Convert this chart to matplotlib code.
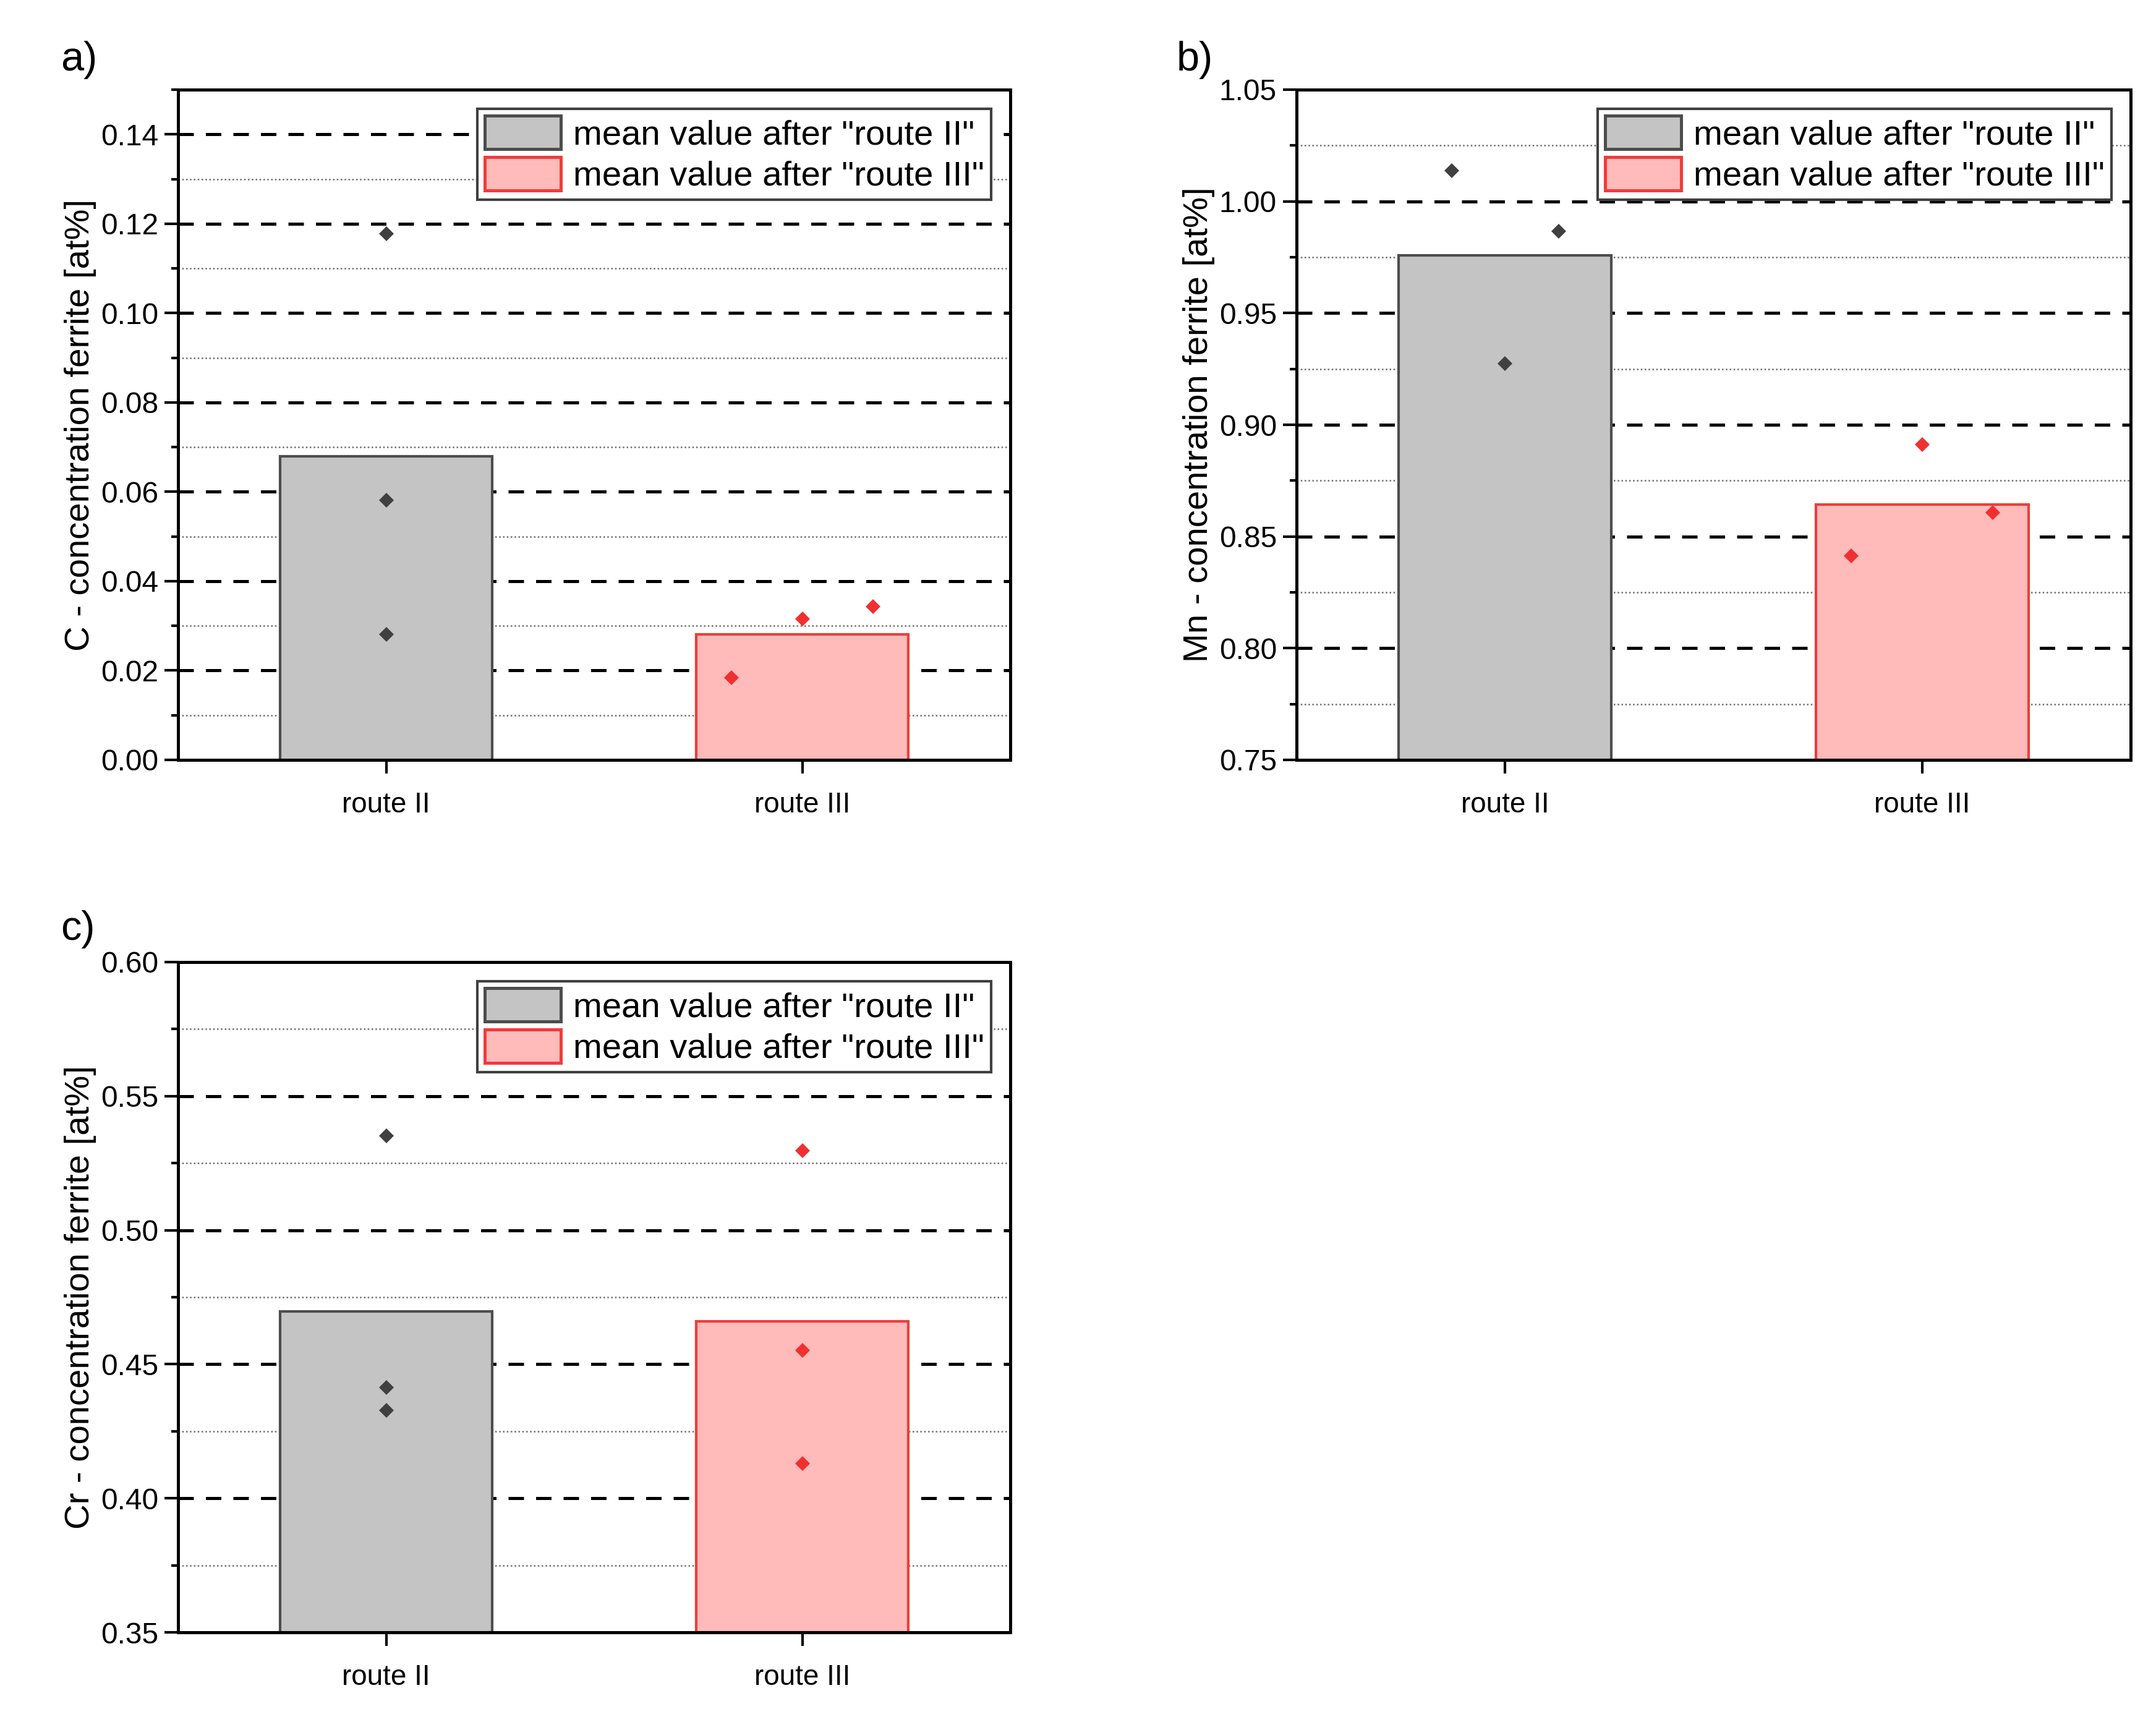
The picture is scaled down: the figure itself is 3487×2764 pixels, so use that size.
import matplotlib
matplotlib.use('Agg')
import matplotlib.pyplot as plt
from matplotlib.patches import Patch
from matplotlib.ticker import MultipleLocator, FormatStrFormatter

plt.rcParams['font.family'] = ['Liberation Sans', 'DejaVu Sans']

# ---------------- data ----------------
categories = ['route II', 'route III']
legend_labels = ['mean value after "route II"', 'mean value after "route III"']

# a) carbon
c_means = [0.0680, 0.0281]
c_route2 = [0.1178, 0.0581, 0.0281]
c_route3 = [0.0184, 0.0316, 0.0343]
c_route2_dx = [0.0, 0.0, 0.0]
c_route3_dx = [-0.17, 0.0, 0.17]

# b) manganese
mn_means = [0.9757, 0.8643]
mn_route2 = [1.0138, 0.9865, 0.9273]
mn_route3 = [0.8413, 0.8911, 0.8607]
mn_route2_dx = [-0.128, 0.128, 0.0]
mn_route3_dx = [-0.17, 0.0, 0.17]

# c) chromium
cr_means = [0.4698, 0.4661]
cr_route2 = [0.5353, 0.4413, 0.4327]
cr_route3 = [0.5296, 0.4552, 0.4129]
cr_route2_dx = [0.0, 0.0, 0.0]
cr_route3_dx = [0.0, 0.0, 0.0]

panel_letters = ['a)', 'b)', 'c)']
ylabels = ['C - concentration ferrite [at%]',
           'Mn - concentration ferrite [at%]',
           'Cr - concentration ferrite [at%]']

# ---------------- style ----------------
bar_face = ['#c4c4c4', '#ffbaba']
bar_edge = ['#4d4d4d', '#f23b3b']
pt_color = ['#404040', '#f03030']

W, H = 3487, 2764
fig = plt.figure(figsize=(W / 300, H / 300), dpi=300)

def frac_rect(l, r, t, b):
    return [l / W, 1 - b / H, (r - l) / W, (b - t) / H]

rects = [frac_rect(288, 1634, 145, 1229),
         frac_rect(2097, 3446, 145, 1229),
         frac_rect(288, 1634, 1556, 2640)]
letter_pos = [(98, 66), (1903, 66), (98, 1472)]

panels = [
    (c_means, c_route2, c_route3, c_route2_dx, c_route3_dx, (0.0, 0.15), 0.02, 0.01),
    (mn_means, mn_route2, mn_route3, mn_route2_dx, mn_route3_dx, (0.75, 1.05), 0.05, 0.025),
    (cr_means, cr_route2, cr_route3, cr_route2_dx, cr_route3_dx, (0.35, 0.60), 0.05, 0.025),
]

for i, (means, r2, r3, dx2, dx3, ylim, maj, mnr) in enumerate(panels):
    ax = fig.add_axes(rects[i])
    xs = [1, 2]
    ax.bar(xs, [m - ylim[0] for m in means], bottom=ylim[0], width=0.51,
           color=bar_face, edgecolor=bar_edge, linewidth=1.0, zorder=3)
    ax.plot([xs[0] + d for d in dx2], r2, linestyle='none', marker='D',
            markersize=4.0, color=pt_color[0], markeredgewidth=0, zorder=4)
    ax.plot([xs[1] + d for d in dx3], r3, linestyle='none', marker='D',
            markersize=4.0, color=pt_color[1], markeredgewidth=0, zorder=4)

    ax.set_xlim(0.5, 2.5)
    ax.set_ylim(*ylim)
    ax.set_xticks(xs)
    ax.set_xticklabels(categories, fontsize=11)
    ax.yaxis.set_major_locator(MultipleLocator(maj))
    ax.yaxis.set_minor_locator(MultipleLocator(mnr))
    ax.yaxis.set_major_formatter(FormatStrFormatter('%.2f'))
    ax.tick_params(axis='y', which='major', direction='out', length=5.2,
                   width=1.0, labelsize=11.5, pad=2.5)
    ax.tick_params(axis='y', which='minor', direction='out', length=2.6, width=1.0)
    ax.tick_params(axis='x', which='major', direction='out', length=5.2,
                   width=1.0, pad=7)
    ax.tick_params(axis='x', which='minor', bottom=False)

    ax.set_axisbelow(True)
    ax.grid(axis='y', which='major', color='black', linestyle=(0, (5.0, 3.9)),
            linewidth=1.2, zorder=1)
    ax.grid(axis='y', which='minor', color='#6e6e6e', linestyle=(0, (1, 1.5)),
            linewidth=0.6, zorder=1)
    for s in ax.spines.values():
        s.set_linewidth(1.2)
        s.set_zorder(5)

    ax.set_ylabel(ylabels[i], fontsize=13.5)
    ax.yaxis.set_label_coords(-0.098, 0.5)

    handles = [Patch(facecolor=bar_face[k], edgecolor=bar_edge[k], linewidth=1.2)
               for k in range(2)]
    leg = ax.legend(handles=handles, labels=legend_labels, loc='upper right',
                    fontsize=13.5, frameon=True, fancybox=False, framealpha=1,
                    edgecolor='#404040', borderpad=0.2, labelspacing=0.15,
                    handlelength=2.2, handleheight=1.1, handletextpad=0.35,
                    borderaxespad=0.55)
    leg.get_frame().set_linewidth(1.0)
    leg.set_zorder(6)

    lx, ly = letter_pos[i]
    fig.text(lx / W, 1 - ly / H, panel_letters[i], fontsize=16, ha='left', va='top')

fig.savefig('out.png', dpi=300)
